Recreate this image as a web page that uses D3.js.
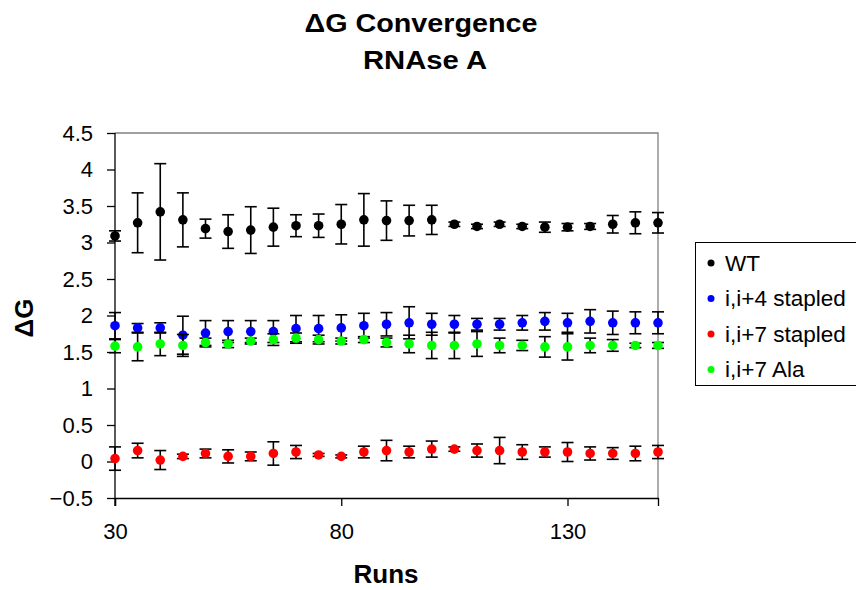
<!DOCTYPE html>
<html><head><meta charset="utf-8">
<script src="https://cdn.jsdelivr.net/npm/d3@7"></script>
<style>body{margin:0;background:#fff;} svg{display:block;font-family:Arial,"Liberation Sans",sans-serif;}</style>
</head><body>
<svg id="chart" width="856" height="590"></svg>
<script>
const runs = [30,35,40,45,50,55,60,65,70,75,80,85,90,95,100,105,110,115,120,125,130,135,140,145,150];
const wtVal  = [3.09,3.27,3.42,3.31,3.19,3.15,3.17,3.21,3.23,3.23,3.25,3.31,3.30,3.30,3.31,3.25,3.22,3.25,3.22,3.21,3.21,3.22,3.25,3.27,3.27];
const wtErr  = [0.07,0.41,0.66,0.37,0.13,0.23,0.32,0.26,0.15,0.16,0.27,0.36,0.27,0.21,0.20,0.03,0.03,0.03,0.03,0.07,0.05,0.04,0.12,0.15,0.14];
const i4Val  = [1.86,1.83,1.83,1.73,1.76,1.78,1.78,1.78,1.82,1.82,1.83,1.86,1.88,1.90,1.88,1.88,1.88,1.88,1.90,1.92,1.90,1.92,1.90,1.90,1.90];
const i4Err  = [0.18,0.06,0.07,0.26,0.17,0.15,0.15,0.15,0.18,0.18,0.18,0.17,0.16,0.22,0.15,0.12,0.08,0.08,0.10,0.12,0.13,0.16,0.16,0.15,0.15];
const i7Val  = [0.04,0.15,0.02,0.07,0.11,0.07,0.07,0.11,0.13,0.09,0.07,0.13,0.15,0.13,0.17,0.17,0.15,0.15,0.13,0.13,0.13,0.11,0.11,0.11,0.13];
const i7Err  = [0.16,0.10,0.13,0.03,0.06,0.09,0.06,0.16,0.09,0.02,0.02,0.08,0.14,0.08,0.11,0.03,0.09,0.18,0.10,0.07,0.13,0.09,0.08,0.10,0.09];
const alaVal = [1.58,1.57,1.61,1.59,1.63,1.61,1.65,1.67,1.69,1.67,1.65,1.67,1.63,1.61,1.59,1.59,1.61,1.59,1.59,1.57,1.57,1.59,1.59,1.59,1.59];
const alaErr = [0.09,0.19,0.16,0.15,0.06,0.05,0.04,0.08,0.07,0.06,0.04,0.04,0.06,0.12,0.18,0.18,0.17,0.10,0.07,0.14,0.18,0.10,0.08,0.03,0.04];
const seriesNames = ["WT","i,i+4 stapled","i,i+7 stapled","i,i+7 Ala"];
const seriesColors = ["#000000","#0000ff","#ff0000","#00ff00"];
const xTicks = [30,80,130];
const yTicks = [-0.5,0,0.5,1,1.5,2,2.5,3,3.5,4,4.5];

const series = [
  {name:seriesNames[0], color:seriesColors[0], v:wtVal, e:wtErr},
  {name:seriesNames[1], color:seriesColors[1], v:i4Val, e:i4Err},
  {name:seriesNames[2], color:seriesColors[2], v:i7Val, e:i7Err},
  {name:seriesNames[3], color:seriesColors[3], v:alaVal, e:alaErr}
];

const L=115, R=658, T=133, B=498;
const svg = d3.select("#chart");
const x = d3.scaleLinear().domain([30,150]).range([L,R]);
const y = d3.scaleLinear().domain([-0.5,4.5]).range([B,T]);
const FONT = "Arial,'Liberation Sans',sans-serif";

// plot frame top/right grey
svg.append("path").attr("d",`M${L},${T}H${R}V${B}`).attr("fill","none").attr("stroke","#808080").attr("stroke-width",1.3);

// axes
const yAxis = d3.axisLeft(y).tickValues(yTicks).tickSize(8).tickPadding(14).tickFormat(d3.format("~g"));
const gy = svg.append("g").attr("transform",`translate(${L},0)`).call(yAxis);
const xAxis = d3.axisBottom(x).tickValues(xTicks).tickSize(8).tickPadding(17).tickFormat(d3.format("d"));
const gx = svg.append("g").attr("transform",`translate(0,${B})`).call(xAxis);
[gx,gy].forEach(g=>{
  g.attr("font-size",22).attr("font-family",FONT);
  g.select(".domain").attr("stroke","#000").attr("stroke-width",1.3);
  g.selectAll(".tick line").attr("stroke","#000").attr("stroke-width",1.3);
  g.selectAll(".tick text").attr("fill","#000");
});
gy.select(".domain").attr("d",`M0,${T}V${B+8}`);

// data
series.forEach(s=>{
  const g = svg.append("g");
  const pts = runs.map((r,i)=>({x:r,v:s.v[i],e:s.e[i]}));
  const eb = g.selectAll(".eb").data(pts).enter().append("g").attr("stroke","#000").attr("stroke-width",1.6);
  eb.append("line").attr("x1",d=>x(d.x)).attr("x2",d=>x(d.x)).attr("y1",d=>y(d.v+d.e)).attr("y2",d=>y(d.v-d.e));
  eb.append("line").attr("x1",d=>x(d.x)-6).attr("x2",d=>x(d.x)+6).attr("y1",d=>y(d.v+d.e)).attr("y2",d=>y(d.v+d.e));
  eb.append("line").attr("x1",d=>x(d.x)-6).attr("x2",d=>x(d.x)+6).attr("y1",d=>y(d.v-d.e)).attr("y2",d=>y(d.v-d.e));
  g.selectAll("circle").data(pts).enter().append("circle")
    .attr("cx",d=>x(d.x)).attr("cy",d=>y(d.v)).attr("r",4.8).attr("fill",s.color);
});

// titles
svg.append("text").attr("x",421).attr("y",32).attr("text-anchor","middle").attr("font-size",25).attr("font-weight","bold")
  .attr("textLength",233).attr("lengthAdjust","spacingAndGlyphs").text("ΔG Convergence");
svg.append("text").attr("x",425).attr("y",69).attr("text-anchor","middle").attr("font-size",25).attr("font-weight","bold")
  .attr("textLength",124).attr("lengthAdjust","spacingAndGlyphs").text("RNAse A");
svg.append("text").attr("x",386).attr("y",583).attr("text-anchor","middle").attr("font-size",26).attr("font-weight","bold").text("Runs");
svg.append("text").attr("transform","translate(33,318) rotate(-90)").attr("text-anchor","middle").attr("font-size",26).attr("font-weight","bold").text("ΔG");

// legend
svg.append("rect").attr("x",695.5).attr("y",242.5).attr("width",170).attr("height",143).attr("fill","#fff").attr("stroke","#000").attr("stroke-width",1);
const lg = svg.selectAll(".lg").data(series).enter().append("g").attr("transform",(d,i)=>`translate(0,${263+i*35.5})`);
lg.append("circle").attr("cx",711).attr("cy",0).attr("r",3.5).attr("fill",d=>d.color);
lg.append("text").attr("x",725).attr("y",0).attr("dy","0.35em").attr("font-size",22.5).text(d=>d.name);
</script>
</body></html>
